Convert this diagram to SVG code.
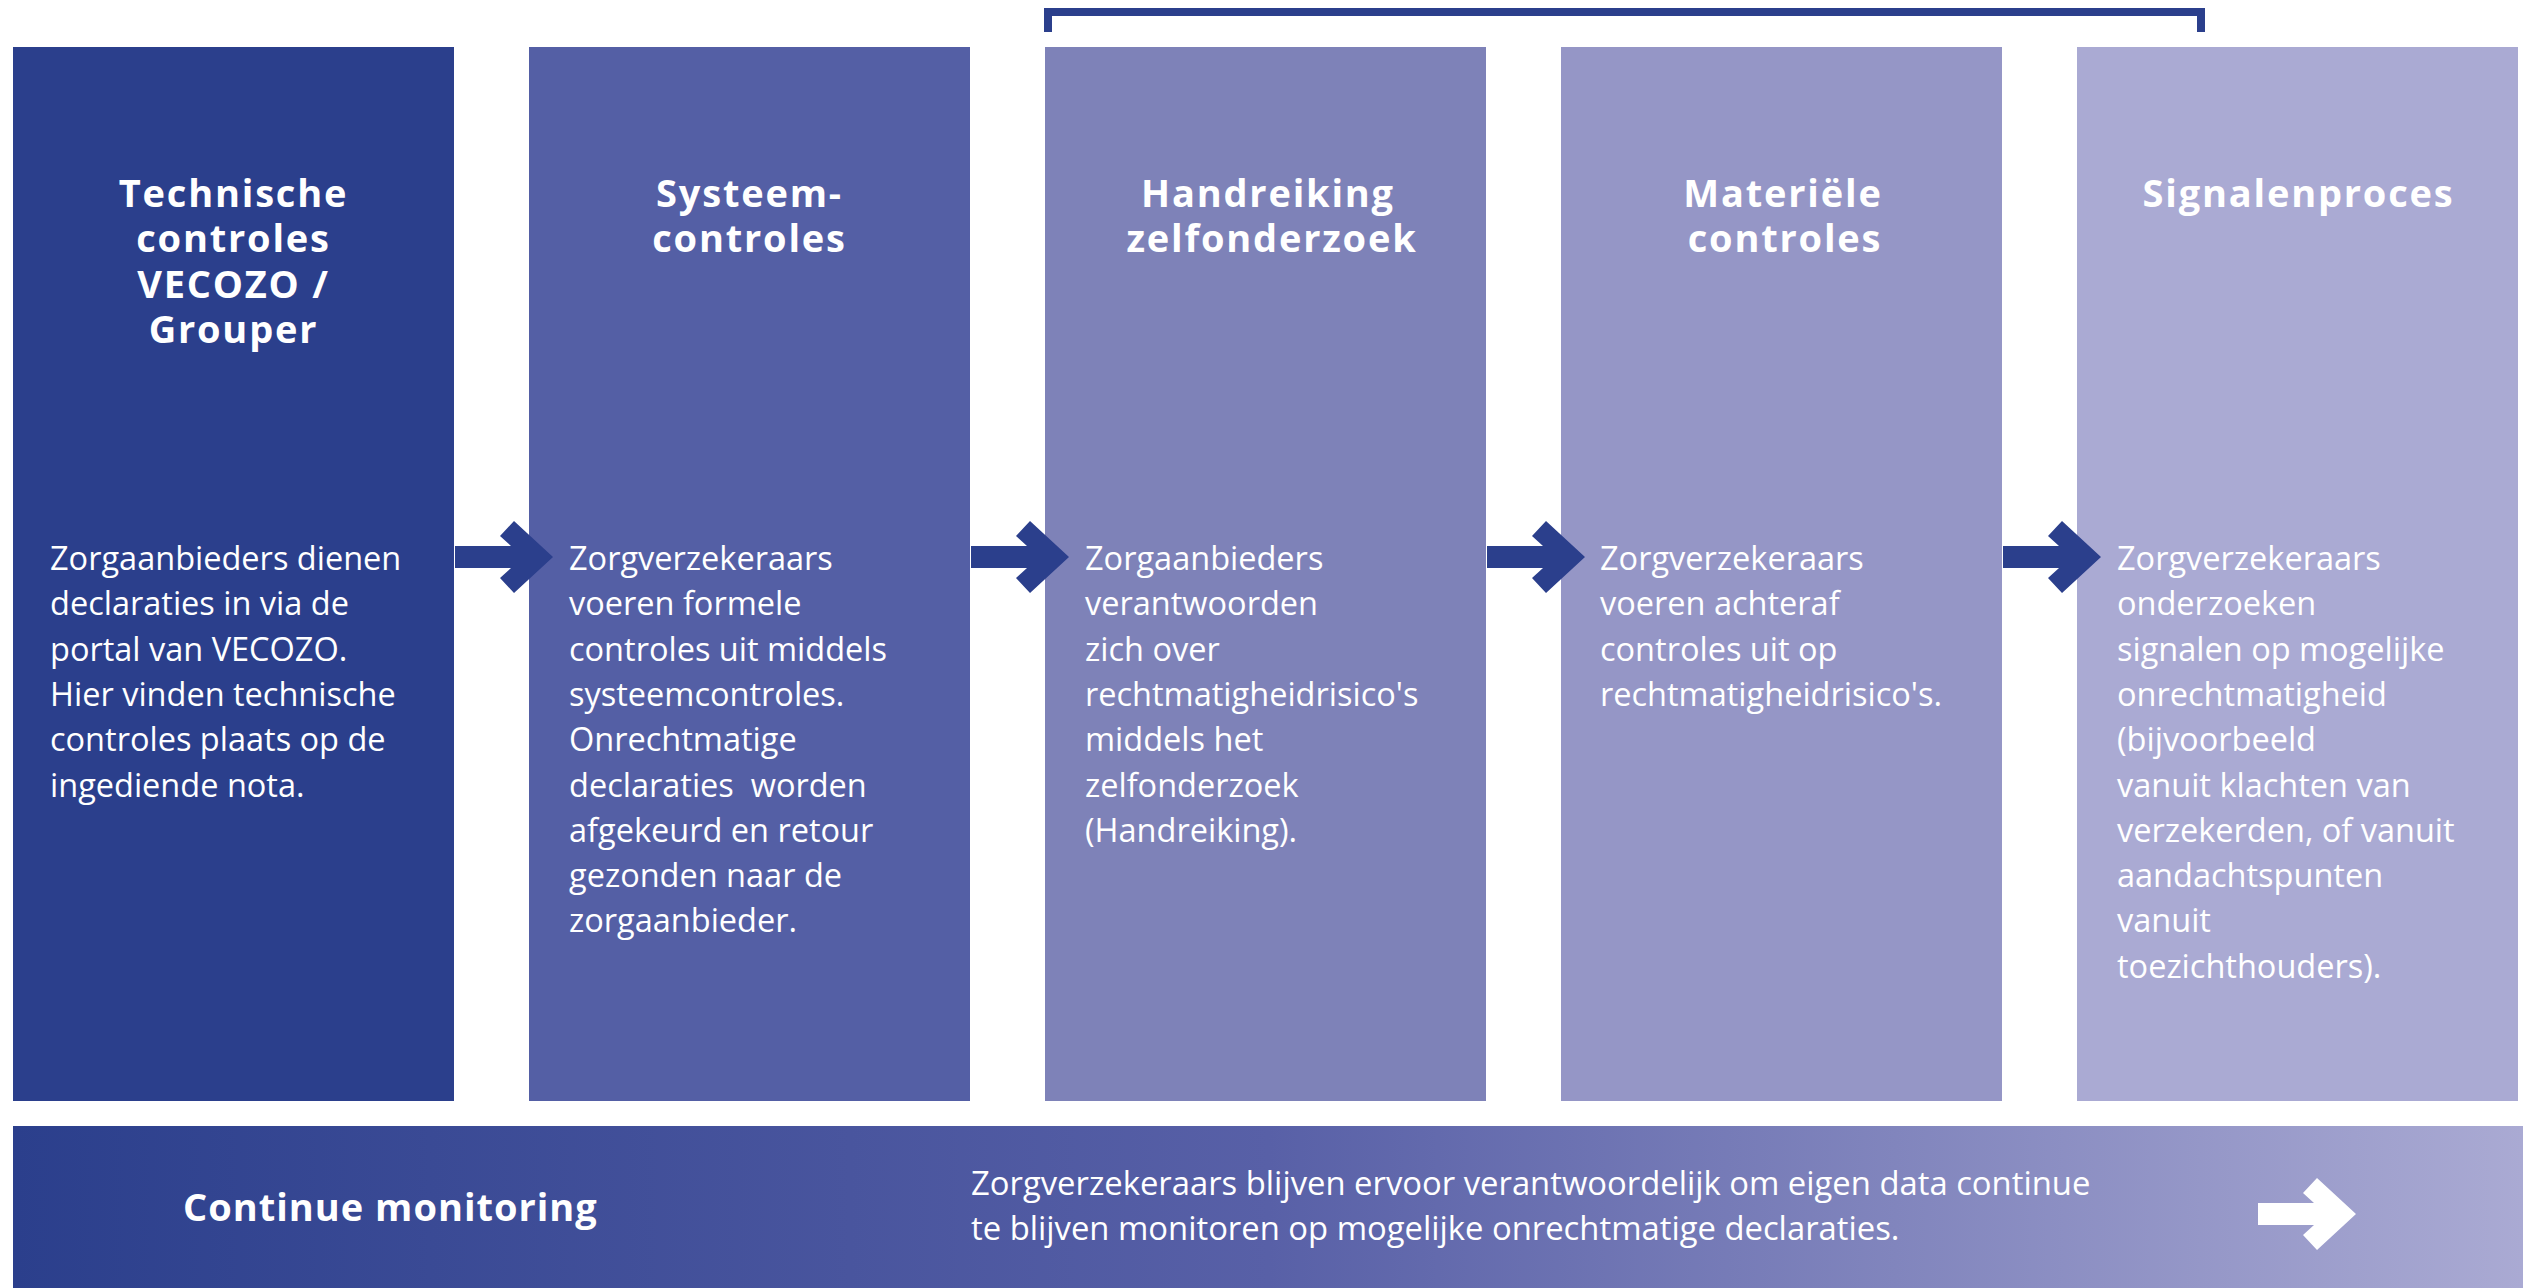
<svg xmlns="http://www.w3.org/2000/svg" xmlns:xlink="http://www.w3.org/1999/xlink" width="2536" height="1288" viewBox="0 0 2536 1288">
<style>
.title{font-family:"Open Sans","Noto Sans",sans-serif;font-weight:700;font-size:38px;letter-spacing:1.8px;fill:#ffffff;text-anchor:middle}
.body{font-family:"Open Sans","Noto Sans",sans-serif;font-weight:400;font-size:32.5px;fill:#ffffff}
.bar{font-family:"Open Sans","Noto Sans",sans-serif;font-weight:400;font-size:32.8px;fill:#ffffff}
.arrow{fill:#2B3F8C}
</style>
<defs>
<path id="arr" d="M-98,-11 L-42,-11 L-53,-21 L-39,-36 L0,0 L-39,36 L-53,21 L-42,11 L-98,11 Z"/>
<linearGradient id="barGrad" x1="0" y1="0" x2="1" y2="0">
<stop offset="0" stop-color="#2B3F8C"/>
<stop offset="0.5" stop-color="#5860A7"/>
<stop offset="1" stop-color="#AAAAD3"/>
</linearGradient>
</defs>
<rect width="2536" height="1288" fill="#ffffff"/>

<g id="bracket">
<polyline points="1048,32 1048,12 2201,12 2201,32" fill="none" stroke="#2B3F8C" stroke-width="8" stroke-linejoin="miter"/>
</g>

<g id="node-technische">
<rect x="13" y="47" width="441" height="1054" fill="#2B3F8C"/>
<text class="title"><tspan x="233.5" y="207">Technische</tspan><tspan x="233.5" y="252">controles</tspan><tspan x="233.5" y="298">VECOZO /</tspan><tspan x="233.5" y="343">Grouper</tspan></text>
<text class="body"><tspan x="50" y="570">Zorgaanbieders dienen</tspan><tspan x="50" y="615.3">declaraties in via de</tspan><tspan x="50" y="660.6">portal van VECOZO.</tspan><tspan x="50" y="705.9">Hier vinden technische</tspan><tspan x="50" y="751.2">controles plaats op de</tspan><tspan x="50" y="796.5">ingediende nota.</tspan></text>
</g>

<g id="node-systeem">
<rect x="529" y="47" width="441" height="1054" fill="#545FA5"/>
<text class="title"><tspan x="749.5" y="207">Systeem-</tspan><tspan x="749.5" y="252">controles</tspan></text>
<text class="body" xml:space="preserve"><tspan x="569" y="570">Zorgverzekeraars</tspan><tspan x="569" y="615.3">voeren formele</tspan><tspan x="569" y="660.6">controles uit middels</tspan><tspan x="569" y="705.9">systeemcontroles.</tspan><tspan x="569" y="751.2">Onrechtmatige</tspan><tspan x="569" y="796.5">declaraties  worden</tspan><tspan x="569" y="841.8">afgekeurd en retour</tspan><tspan x="569" y="887.1">gezonden naar de</tspan><tspan x="569" y="932.4">zorgaanbieder.</tspan></text>
</g>

<g id="node-handreiking">
<rect x="1045" y="47" width="441" height="1054" fill="#7E82B8"/>
<text class="title"><tspan x="1268" y="207">Handreiking</tspan><tspan x="1272" y="252">zelfonderzoek</tspan></text>
<text class="body"><tspan x="1085" y="570">Zorgaanbieders</tspan><tspan x="1085" y="615.3">verantwoorden</tspan><tspan x="1085" y="660.6">zich over</tspan><tspan x="1085" y="705.9">rechtmatigheidrisico's</tspan><tspan x="1085" y="751.2">middels het</tspan><tspan x="1085" y="796.5">zelfonderzoek</tspan><tspan x="1085" y="841.8">(Handreiking).</tspan></text>
</g>

<g id="node-materiele">
<rect x="1561" y="47" width="441" height="1054" fill="#9596C6"/>
<text class="title"><tspan x="1783" y="207">Materiële</tspan><tspan x="1785" y="252">controles</tspan></text>
<text class="body"><tspan x="1600" y="570">Zorgverzekeraars</tspan><tspan x="1600" y="615.3">voeren achteraf</tspan><tspan x="1600" y="660.6">controles uit op</tspan><tspan x="1600" y="705.9">rechtmatigheidrisico's.</tspan></text>
</g>

<g id="node-signalen">
<rect x="2077" y="47" width="441" height="1054" fill="#AAAAD3"/>
<text class="title"><tspan x="2298.5" y="207">Signalenproces</tspan></text>
<text class="body"><tspan x="2117" y="570">Zorgverzekeraars</tspan><tspan x="2117" y="615.3">onderzoeken</tspan><tspan x="2117" y="660.6">signalen op mogelijke</tspan><tspan x="2117" y="705.9">onrechtmatigheid</tspan><tspan x="2117" y="751.2">(bijvoorbeeld</tspan><tspan x="2117" y="796.5">vanuit klachten van</tspan><tspan x="2117" y="841.8">verzekerden, of vanuit</tspan><tspan x="2117" y="887.1">aandachtspunten</tspan><tspan x="2117" y="932.4">vanuit</tspan><tspan x="2117" y="977.7">toezichthouders).</tspan></text>
</g>

<g id="node-monitoring">
<rect x="13" y="1126" width="2510" height="162" fill="url(#barGrad)"/>
<text class="title" style="text-anchor:start;letter-spacing:1px" x="183" y="1221">Continue monitoring</text>
<text class="bar"><tspan x="971" y="1195">Zorgverzekeraars blijven ervoor verantwoordelijk om eigen data continue</tspan><tspan x="971" y="1240">te blijven monitoren op mogelijke onrechtmatige declaraties.</tspan></text>
<use xlink:href="#arr" href="#arr" x="2356" y="1214" fill="#ffffff"/>
</g>

<g id="connectors" class="arrow">
<use xlink:href="#arr" href="#arr" x="553" y="557"/>
<use xlink:href="#arr" href="#arr" x="1069" y="557"/>
<use xlink:href="#arr" href="#arr" x="1585" y="557"/>
<use xlink:href="#arr" href="#arr" x="2101" y="557"/>
</g>
</svg>
